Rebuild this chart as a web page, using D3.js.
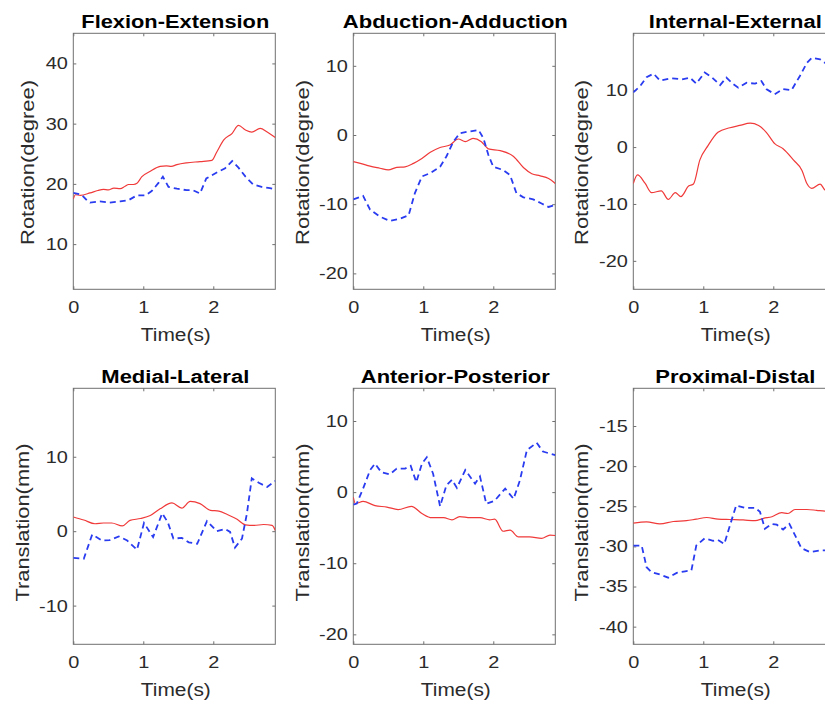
<!DOCTYPE html>
<html><head><meta charset="utf-8">
<script src="https://cdn.jsdelivr.net/npm/d3@7"></script>
<style>body{margin:0;background:#fff}svg{display:block}text{font-family:"Liberation Sans",Arial,Helvetica,sans-serif}</style>
</head><body>
<script>
// ---- data (time in s, value) ----
const timeTicks = [0, 1, 2];
const titles = ["Flexion-Extension","Abduction-Adduction","Internal-External","Medial-Lateral","Anterior-Posterior","Proximal-Distal"];
const yLabels = ["Rotation(degree)","Rotation(degree)","Rotation(degree)","Translation(mm)","Translation(mm)","Translation(mm)"];
const yTicks1 = [10,20,30,40];
const yTicks2 = [-20,-10,0,10];
const yTicks3 = [-20,-10,0,10];
const yTicks4 = [-10,0,10];
const yTicks5 = [-20,-10,0,10];
const yTicks6 = [-40,-35,-30,-25,-20,-15];
const yDomain1 = [2.5,45], yDomain2 = [-22.3,14.7], yDomain3 = [-25,20];
const yDomain4 = [-15.2,19.2], yDomain5 = [-21.4,14.6], yDomain6 = [-42.2,-10.3];

const flexRed = [[0,17.5],[0.03,18.2],[0.1,18.1],[0.24,18.5],[0.35,18.9],[0.43,19.1],[0.5,19.0],[0.58,19.3],[0.67,19.2],[0.74,19.6],[0.79,19.9],[0.86,19.9],[0.91,20.1],[0.98,21.2],[1.1,22.1],[1.24,22.9],[1.33,23.0],[1.4,22.9],[1.48,23.2],[1.62,23.5],[1.81,23.7],[1.98,23.9],[2.05,25.3],[2.15,27.3],[2.27,28.4],[2.36,29.7],[2.46,28.95],[2.55,28.6],[2.67,29.2],[2.77,28.6],[2.886,27.7]];
const flexBlue = [[0,18.5],[0.12,18.2],[0.2,17.2],[0.24,16.9],[0.38,17.1],[0.52,16.9],[0.67,17.1],[0.79,17.3],[0.91,18.1],[1.03,18.1],[1.12,18.8],[1.22,20.2],[1.28,21.2],[1.36,19.5],[1.48,19.2],[1.62,18.95],[1.71,18.95],[1.81,18.4],[1.9,20.9],[2.05,21.9],[2.17,22.6],[2.27,23.8],[2.36,22.7],[2.46,21.2],[2.57,19.9],[2.69,19.5],[2.81,19.3],[2.886,19.1]];
const abdRed = [[0,-3.85],[0.1,-4.1],[0.24,-4.5],[0.38,-4.8],[0.5,-5.05],[0.62,-4.67],[0.74,-4.6],[0.86,-4.1],[0.98,-3.4],[1.1,-2.5],[1.24,-1.8],[1.38,-1.45],[1.5,-0.58],[1.6,-0.96],[1.71,-0.48],[1.83,-0.96],[1.93,-2.0],[2.1,-2.26],[2.29,-3.1],[2.43,-4.7],[2.55,-5.6],[2.67,-5.9],[2.79,-6.3],[2.886,-7.0]];
const abdBlue = [[0,-9.3],[0.14,-8.8],[0.24,-10.8],[0.38,-11.8],[0.52,-12.4],[0.67,-12.1],[0.79,-11.6],[0.88,-8.4],[0.98,-6.0],[1.1,-5.5],[1.24,-4.6],[1.33,-3.1],[1.43,-0.96],[1.52,0.24],[1.64,0.48],[1.79,0.72],[1.86,-0.48],[1.93,-2.9],[2.0,-4.6],[2.14,-5.05],[2.24,-5.8],[2.33,-8.4],[2.43,-9.0],[2.57,-9.3],[2.69,-9.9],[2.79,-10.4],[2.886,-10.1]];
const intRed = [[0,-6.4],[0.06,-4.9],[0.17,-6.4],[0.26,-8.0],[0.4,-7.7],[0.5,-9.2],[0.6,-8.0],[0.68,-8.7],[0.79,-6.85],[0.86,-6.5],[0.95,-2.3],[1.07,0.3],[1.21,2.6],[1.38,3.4],[1.52,3.8],[1.67,4.2],[1.79,3.8],[1.9,2.6],[2.02,0.6],[2.14,-0.3],[2.29,-2.3],[2.41,-4.1],[2.48,-6.4],[2.55,-7.25],[2.67,-6.5],[2.74,-7.55],[2.886,-8.0]];
const intBlue = [[0,9.6],[0.1,10.75],[0.19,12.3],[0.29,12.9],[0.38,11.7],[0.55,12.1],[0.69,11.9],[0.81,12.2],[0.9,11.15],[1.02,13.1],[1.12,12.3],[1.24,10.9],[1.33,12.2],[1.43,11.05],[1.5,10.45],[1.62,11.3],[1.74,11.15],[1.83,11.6],[1.9,10.2],[2.02,9.3],[2.14,10.2],[2.26,10.0],[2.38,12.5],[2.48,14.8],[2.55,15.7],[2.67,15.4],[2.74,14.8],[2.886,14.5]];
const mlRed = [[0,1.9],[0.15,1.5],[0.31,1.0],[0.43,1.1],[0.55,1.1],[0.7,0.7],[0.81,1.45],[0.96,1.7],[1.1,2.1],[1.24,3.0],[1.41,3.8],[1.55,3.1],[1.67,4.0],[1.81,3.7],[1.96,2.8],[2.08,2.7],[2.2,2.25],[2.34,1.6],[2.46,0.85],[2.58,0.77],[2.72,0.9],[2.84,0.77],[2.886,0.1]];
const mlBlue = [[0,-3.6],[0.15,-3.7],[0.27,-0.45],[0.41,-1.25],[0.52,-1.2],[0.65,-0.7],[0.77,-1.25],[0.91,-2.5],[1.01,1.1],[1.14,-0.8],[1.27,2.4],[1.35,1.2],[1.43,-1.0],[1.55,-0.9],[1.65,-1.5],[1.77,-1.7],[1.91,1.35],[2.05,0],[2.17,0.3],[2.24,-0.1],[2.31,-2.2],[2.41,-1.0],[2.48,2.35],[2.55,7.1],[2.65,6.5],[2.77,5.95],[2.886,6.75]];
const apRed = [[0,-0.7],[0.03,-1.6],[0.14,-1.3],[0.31,-1.9],[0.48,-2.1],[0.64,-2.45],[0.83,-2.0],[0.98,-3.0],[1.12,-3.6],[1.29,-3.6],[1.41,-3.9],[1.52,-3.45],[1.67,-3.6],[1.81,-3.6],[1.95,-3.9],[2.02,-3.8],[2.14,-5.5],[2.24,-5.35],[2.36,-6.3],[2.52,-6.3],[2.69,-6.5],[2.81,-6.05],[2.886,-6.1]];
const apBlue = [[0,-1.75],[0.05,-1.6],[0.14,0.5],[0.24,3.1],[0.31,4.0],[0.4,2.8],[0.52,2.5],[0.62,3.3],[0.74,3.3],[0.82,3.7],[0.9,1.4],[0.98,4.0],[1.05,4.9],[1.14,2.6],[1.24,-2.0],[1.33,0.95],[1.41,1.75],[1.48,0.6],[1.6,3.1],[1.74,1.2],[1.81,2.2],[1.9,-1.65],[2.02,-1.2],[2.17,0.5],[2.29,-0.95],[2.38,1.65],[2.48,5.9],[2.62,6.95],[2.71,5.7],[2.886,5.2]];
const pdRed = [[0,-27.1],[0.19,-26.95],[0.38,-27.2],[0.57,-26.9],[0.76,-26.8],[0.9,-26.6],[1.05,-26.4],[1.21,-26.6],[1.38,-26.65],[1.57,-26.7],[1.74,-26.8],[1.86,-26.5],[1.98,-26.3],[2.12,-25.8],[2.21,-25.9],[2.31,-25.4],[2.48,-25.4],[2.62,-25.5],[2.74,-25.6],[2.886,-25.6]];
const pdBlue = [[0,-29.9],[0.12,-29.9],[0.19,-32.6],[0.26,-33.2],[0.38,-33.5],[0.5,-33.9],[0.62,-33.3],[0.74,-33.1],[0.83,-33.0],[0.9,-29.9],[1.02,-29.0],[1.14,-29.3],[1.21,-29.2],[1.3,-29.7],[1.38,-27.4],[1.47,-24.9],[1.6,-25.2],[1.74,-25.2],[1.81,-25.7],[1.88,-27.8],[1.98,-27.2],[2.05,-27.3],[2.14,-27.9],[2.23,-27.2],[2.31,-28.6],[2.4,-30.2],[2.52,-30.7],[2.67,-30.5],[2.886,-30.5]];

// ---- layout ----
const W = 825, H = 705;
const lefts = [73.3, 353.3, 633.3], tops = [33.3, 388.3];
const pw = 202, ph = 256;
const titleW = [188,225,173,148,189,160];
const ylabW = [165,165,165,158,158,158];
const ylabX = [34, 308.5, 588, 28.5, 308.5, 588];   // absolute baseline x
const ylabY = [162.5, 162.5, 162.5, 522.5, 522.5, 522.5];
const axisCol = "#707070", textCol = "#2b2b2b";

const panels = [
  {yDomain:yDomain1, yTicks:yTicks1, red:flexRed, blue:flexBlue},
  {yDomain:yDomain2, yTicks:yTicks2, red:abdRed, blue:abdBlue},
  {yDomain:yDomain3, yTicks:yTicks3, red:intRed, blue:intBlue},
  {yDomain:yDomain4, yTicks:yTicks4, red:mlRed, blue:mlBlue},
  {yDomain:yDomain5, yTicks:yTicks5, red:apRed, blue:apBlue},
  {yDomain:yDomain6, yTicks:yTicks6, red:pdRed, blue:pdBlue}
];

const svg = d3.select("body").append("svg").attr("width", W).attr("height", H);
svg.append("rect").attr("width", W).attr("height", H).attr("fill", "#fff");

function stretch(sel, f) {
  sel.each(function(){ const n = this.getComputedTextLength(); this.setAttribute("textLength", n*f); this.setAttribute("lengthAdjust","spacingAndGlyphs"); });
}

panels.forEach((p, i) => {
  const col = i % 3, row = Math.floor(i / 3);
  const L = lefts[col], T = tops[row];
  const x = d3.scaleLinear().domain([0, 2.886]).range([0, pw]);
  const y = d3.scaleLinear().domain(p.yDomain).range([ph, 0]);
  const g = svg.append("g").attr("transform", `translate(${L},${T})`);

  g.append("clipPath").attr("id", "clip" + i).append("rect").attr("width", pw).attr("height", ph);

  // axes: ticks inside on all four sides
  const fmt = d => String(d);
  const ax = [
    [d3.axisBottom(x).tickValues(timeTicks).tickSize(-3).tickPadding(11.5).tickFormat(fmt), `translate(0,${ph})`, true],
    [d3.axisTop(x).tickValues(timeTicks).tickSize(-3).tickFormat(""), `translate(0,0)`, false],
    [d3.axisLeft(y).tickValues(p.yTicks).tickSize(-3).tickPadding(5.5).tickFormat(fmt), `translate(0,0)`, true],
    [d3.axisRight(y).tickValues(p.yTicks).tickSize(-3).tickFormat(""), `translate(${pw},0)`, false]
  ];
  ax.forEach(([a, tr, lab]) => {
    const ag = g.append("g").attr("transform", tr).call(a);
    ag.select(".domain").remove();
    ag.selectAll("line").attr("stroke", axisCol).attr("stroke-width", 1);
    if (lab) {
      ag.selectAll("text").attr("fill", textCol).style("font-size", "17px");
      stretch(ag.selectAll("text"), 1.17);
    }
  });
  g.append("rect").attr("width", pw).attr("height", ph).attr("fill", "none")
    .attr("stroke", axisCol).attr("stroke-width", 1);

  const lineS = d3.line().x(d => x(d[0])).y(d => y(d[1])).curve(d3.curveMonotoneX);
  const lineL = d3.line().x(d => x(d[0])).y(d => y(d[1]));
  const cg = g.append("g").attr("clip-path", `url(#clip${i})`);
  cg.append("path").datum(p.red).attr("d", lineS).attr("fill", "none")
    .attr("stroke", "#f03a3a").attr("stroke-width", 1.2);
  cg.append("path").datum(p.blue).attr("d", lineL).attr("fill", "none")
    .attr("stroke", "#2a3cf0").attr("stroke-width", 1.8).attr("stroke-dasharray", "6,4");

  // title
  svg.append("text").attr("x", L + pw/2 + 1).attr("y", T - 5.6).attr("text-anchor", "middle")
    .style("font-size", "17.5px").style("font-weight", "bold").attr("fill", "#000")
    .attr("textLength", titleW[i]).attr("lengthAdjust", "spacingAndGlyphs").text(titles[i]);
  // x label
  svg.append("text").attr("x", L + pw/2 + 1.5).attr("y", T + ph + 52).attr("text-anchor", "middle")
    .style("font-size", "18px").attr("fill", textCol)
    .attr("textLength", 70).attr("lengthAdjust", "spacingAndGlyphs").text("Time(s)");
  // y label
  svg.append("text").attr("transform", `translate(${ylabX[i]},${ylabY[i]}) rotate(-90)`)
    .attr("text-anchor", "middle").style("font-size", "18px").attr("fill", textCol)
    .attr("textLength", ylabW[i]).attr("lengthAdjust", "spacingAndGlyphs").text(yLabels[i]);
});
</script>
</body></html>
